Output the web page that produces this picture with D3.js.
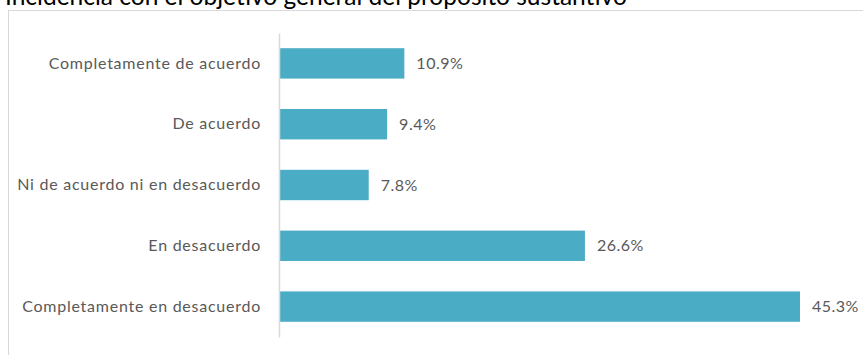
<!DOCTYPE html>
<html>
<head>
<meta charset="utf-8">
<script src="https://cdn.jsdelivr.net/npm/d3@7/dist/d3.min.js"></script>
<style>
  html, body { margin: 0; padding: 0; background: #fff; }
  svg { display: block; }
</style>
</head>
<body>
<svg id="chart" width="863" height="355"></svg>
<script>
// Survey responses, top to bottom
const categories = [
  "Completamente de acuerdo",
  "De acuerdo",
  "Ni de acuerdo ni en desacuerdo",
  "En desacuerdo",
  "Completamente en desacuerdo"
];
const values = [10.9, 9.4, 7.8, 26.6, 45.3];
const valueLabels = ["10.9%", "9.4%", "7.8%", "26.6%", "45.3%"];
const title = "Incidencia con el objetivo general del propósito sustantivo";

const svg = d3.select("#chart");
const W = 863, H = 355;
const font = "Lato, 'Open Sans', sans-serif";

// Chart title (partly above the visible area)
svg.append("text")
  .attr("x", 5)
  .attr("y", 5)
  .attr("font-family", font)
  .attr("font-size", 24.5)
  .attr("fill", "#000")
  .text(title);

// Chart area frame
svg.append("rect")
  .attr("x", 8.5).attr("y", 10.5)
  .attr("width", W + 10).attr("height", H + 10)
  .attr("fill", "none")
  .attr("stroke", "#d9d9d9")
  .attr("stroke-width", 1);

const x0 = 279;
const x = d3.scaleLinear().domain([0, 45.3]).range([x0, 800]);
const y = d3.scaleBand().domain(categories).range([33, 337]).paddingInner(0.5).paddingOuter(0.25);

// Bars
svg.append("g").selectAll("rect")
  .data(categories)
  .join("rect")
  .attr("x", x(0))
  .attr("y", d => y(d))
  .attr("width", (d, i) => x(values[i]) - x(0))
  .attr("height", y.bandwidth())
  .attr("fill", "#4BACC6");

// Category axis
const axis = svg.append("g")
  .attr("transform", `translate(${x0},0)`)
  .call(d3.axisLeft(y).tickSize(0).tickPadding(18));
axis.select(".domain").attr("stroke", "#d9d9d9").attr("stroke-width", 1.5);
axis.selectAll("text")
  .attr("font-family", font)
  .attr("font-size", 16)
  .attr("letter-spacing", "0.75px")
  .attr("fill", "#595959");

// Value labels
svg.append("g").selectAll("text")
  .data(categories)
  .join("text")
  .attr("x", (d, i) => x(values[i]) + 12)
  .attr("y", d => y(d) + y.bandwidth() / 2)
  .attr("dy", "0.35em")
  .attr("font-family", font)
  .attr("font-size", 16)
  .attr("letter-spacing", "0.5px")
  .attr("fill", "#595959")
  .text((d, i) => valueLabels[i]);
</script>
</body>
</html>
